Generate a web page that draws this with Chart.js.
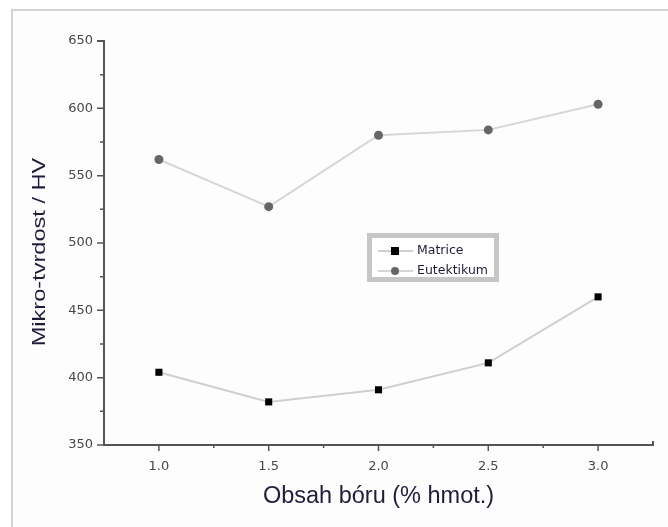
<!DOCTYPE html>
<html>
<head>
<meta charset="utf-8">
<script src="https://cdn.jsdelivr.net/npm/chart.js@4"></script>
<style>
  html, body { margin: 0; padding: 0; background: #fff; }
  #wrap { position: relative; width: 668px; height: 527px; }
  #frame { position: absolute; left: 11px; top: 9px; right: -5px; bottom: -5px;
           border-top: 2px solid #d4d4d4; border-left: 2px solid #d4d4d4; background: #fdfdfd; }
  canvas { position: absolute; left: 0; top: 0; }
</style>
</head>
<body>
<div id="wrap">
  <div id="frame"></div>
  <canvas id="hardnessChart" width="668" height="527"></canvas>
</div>
<script>
const boronContent = [1.0, 1.5, 2.0, 2.5, 3.0];
const matriceHV = [404, 382, 391, 411, 460];
const eutektikumHV = [562, 527, 580, 584, 603];
const xTicks = [1.0, 1.5, 2.0, 2.5, 3.0];
const xMinorTicks = [1.25, 1.75, 2.25, 2.75];
const yTicks = [350, 400, 450, 500, 550, 600, 650];
const yMinorTicks = [375, 425, 475, 525, 575, 625];
const yTitle = "Mikro-tvrdost / HV";
const xTitle = "Obsah bóru (% hmot.)";

const toPoints = vals => vals.map((v, i) => ({ x: boronContent[i], y: v }));

// axes with major + minor ticks, drawn from the scales
const axesPlugin = {
  id: "originAxes",
  afterDatasetsDraw(chart) {
    const { ctx, chartArea: a, scales: { x, y } } = chart;
    ctx.save();
    ctx.strokeStyle = "#555";
    ctx.lineWidth = 2;
    ctx.beginPath();
    ctx.moveTo(a.left - 7, a.top); ctx.lineTo(a.left, a.top);
    ctx.lineTo(a.left, a.bottom); ctx.lineTo(a.right, a.bottom);
    ctx.lineTo(a.right, a.bottom - 4);
    ctx.stroke();
    ctx.lineWidth = 1.5;
    ctx.beginPath();
    yTicks.forEach(v => { const p = y.getPixelForValue(v); ctx.moveTo(a.left - 7, p); ctx.lineTo(a.left, p); });
    yMinorTicks.forEach(v => { const p = y.getPixelForValue(v); ctx.moveTo(a.left - 4, p); ctx.lineTo(a.left, p); });
    xTicks.forEach(v => { const p = x.getPixelForValue(v); ctx.moveTo(p, a.bottom); ctx.lineTo(p, a.bottom + 6); });
    xMinorTicks.forEach(v => { const p = x.getPixelForValue(v); ctx.moveTo(p, a.bottom); ctx.lineTo(p, a.bottom + 3); });
    ctx.stroke();

    // y title, a little stretched along its length as in the original
    ctx.translate(40, 252);
    ctx.rotate(-Math.PI / 2);
    ctx.scale(1.31, 1);
    ctx.fillStyle = "#1e1e3a";
    ctx.font = "18px 'Liberation Sans', Arial, sans-serif";
    ctx.textAlign = "center";
    ctx.textBaseline = "middle";
    ctx.fillText(yTitle, 0, 0);
    ctx.restore();
  }
};

// boxed legend inside the plot, like Origin
const boxLegend = {
  id: "boxLegend",
  afterDraw(chart) {
    const ctx = chart.ctx;
    const left = 367, top = 233, w = 132, h = 49;
    ctx.save();
    ctx.fillStyle = "#c6c6c6";
    ctx.fillRect(left, top, w, h);
    ctx.fillStyle = "#fff";
    ctx.fillRect(left + 5, top + 5, w - 10, h - 10);
    chart.data.datasets.forEach((ds, i) => {
      const cy = 251 + i * 20;
      ctx.strokeStyle = ds.borderColor;
      ctx.lineWidth = 2;
      ctx.beginPath(); ctx.moveTo(378, cy); ctx.lineTo(413, cy); ctx.stroke();
      ctx.fillStyle = ds.pointBackgroundColor;
      if (ds.pointStyle === "rect") ctx.fillRect(391, cy - 4, 8, 8);
      else { ctx.beginPath(); ctx.arc(395, cy, 4, 0, Math.PI * 2); ctx.fill(); }
      ctx.fillStyle = "#1e1e3a";
      ctx.font = "12.5px 'DejaVu Sans', sans-serif";
      ctx.textBaseline = "middle";
      ctx.fillText(ds.label, 417, cy);
    });
    ctx.restore();
  }
};

new Chart(document.getElementById("hardnessChart"), {
  type: "line",
  data: {
    datasets: [
      {
        label: "Matrice",
        data: toPoints(matriceHV),
        borderColor: "#cfcfcf",
        borderWidth: 2,
        pointStyle: "rect",
        pointRadius: 5,
        pointBackgroundColor: "#000",
        pointBorderColor: "#000",
        pointBorderWidth: 0
      },
      {
        label: "Eutektikum",
        data: toPoints(eutektikumHV),
        borderColor: "#d6d6d6",
        borderWidth: 2,
        pointStyle: "circle",
        pointRadius: 4.5,
        pointBackgroundColor: "#666",
        pointBorderColor: "#666",
        pointBorderWidth: 0
      }
    ]
  },
  options: {
    responsive: false,
    animation: false,
    layout: { padding: { top: 41, right: 15, left: 0, bottom: 0 } },
    plugins: { legend: { display: false }, tooltip: { enabled: false } },
    scales: {
      x: {
        type: "linear",
        min: 0.75,
        max: 3.25,
        afterBuildTicks: s => { s.ticks = xTicks.map(v => ({ value: v })); },
        afterFit: s => { s.height = 82; },
        grid: { display: false, drawTicks: false },
        border: { display: false },
        ticks: {
          padding: 14,
          color: "#484848",
          font: { family: "'DejaVu Sans', sans-serif", size: 13 },
          callback: v => Number(v).toFixed(1)
        },
        title: {
          display: true,
          text: xTitle,
          color: "#1e1e3a",
          font: { family: "'Liberation Sans', Arial, sans-serif", size: 23.5 },
          padding: { top: 16, bottom: 16 }
        }
      },
      y: {
        min: 350,
        max: 650,
        afterBuildTicks: s => { s.ticks = yTicks.map(v => ({ value: v })); },
        afterFit: s => { s.width = 104; },
        grid: { display: false, drawTicks: false },
        border: { display: false },
        ticks: {
          padding: 11,
          color: "#484848",
          font: { family: "'DejaVu Sans', sans-serif", size: 13 }
        },
        title: { display: false }
      }
    }
  },
  plugins: [axesPlugin, boxLegend]
});
</script>
</body>
</html>
